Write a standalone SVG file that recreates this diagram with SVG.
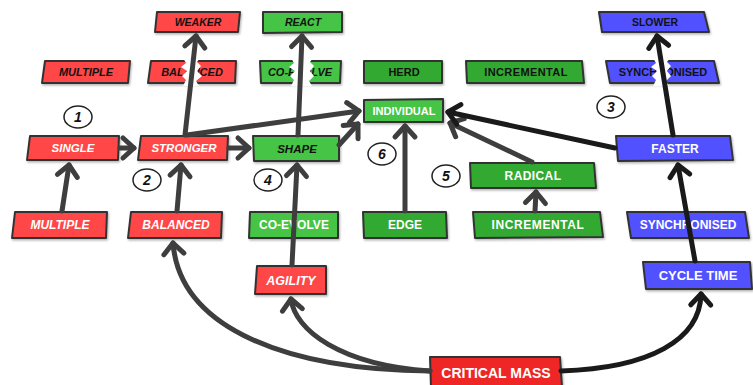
<svg xmlns="http://www.w3.org/2000/svg" width="753" height="385" viewBox="0 0 753 385">
<defs>
<style>
.box{stroke:#333;stroke-width:2;stroke-linejoin:round;filter:url(#sh)}
.r{fill:#ff4646}.g{fill:#44c444}.dg{fill:#30aa30}.b{fill:#5151ff}.cm{fill:#ee2626}
.t{font-family:"Liberation Sans",Arial,sans-serif;font-weight:bold;text-anchor:middle}
.k{fill:#111}.w{fill:#fff}.i{font-style:italic}
.brk{fill:#fff}
.c{fill:none;stroke:#3e3e3e;stroke-width:5;stroke-linecap:round}
.cb{fill:none;stroke:#1a1a1a;stroke-width:5;stroke-linecap:round}
.num{fill:#fff;stroke:#222;stroke-width:1.5}
.nt{font-family:"Liberation Sans",Arial,sans-serif;font-weight:bold;font-style:italic;font-size:14px;fill:#111;text-anchor:middle}
</style>
<filter id="sh" x="-10%" y="-20%" width="125%" height="150%">
<feDropShadow dx="1" dy="1.5" stdDeviation="1" flood-color="#000" flood-opacity="0.3"/>
</filter>
<marker id="ag" markerUnits="userSpaceOnUse" markerWidth="34" markerHeight="34" viewBox="-17 -17 34 34" refX="0" refY="0" orient="auto">
<path d="M-11,-10 L0,0 L-11,10" fill="none" stroke="#3e3e3e" stroke-width="5" stroke-linecap="round" stroke-linejoin="round"/>
</marker>
<marker id="ab" markerUnits="userSpaceOnUse" markerWidth="34" markerHeight="34" viewBox="-17 -17 34 34" refX="0" refY="0" orient="auto">
<path d="M-11,-10 L0,0 L-11,10" fill="none" stroke="#1a1a1a" stroke-width="5" stroke-linecap="round" stroke-linejoin="round"/>
</marker>
</defs>
<rect width="753" height="385" fill="#fff"/>

<g id="nodes">
<g id="weaker"><polygon class="box r" points="157,12 240,12 238,32 155,32"/><text class="t k i" x="198" y="26" font-size="10.5">WEAKER</text></g>
<g id="react"><polygon class="box g" points="263,12 342,12 342,32 263,33"/><text class="t k i" x="303" y="26" font-size="10.5">REACT</text></g>
<g id="slower"><polygon class="box b" points="599,12 704,12 709,32 602,32"/><text class="t k" x="655" y="26" font-size="10.5">SLOWER</text></g>

<g id="multiple-top"><polygon class="box r" points="45,61 130,61 128,83 42,83"/><text class="t k i" x="86" y="76" font-size="11">MULTIPLE</text></g>
<g id="balanced-top"><polygon class="box r" points="151,61 236,61 235,83 148,83"/><text class="t k i" x="192" y="76" font-size="11">BALANCED</text>
<polygon class="brk" points="183,58 186,63 181,67 187,71 182,76 186,80 183,86 199,86 196,81 202,76 197,71 201,66 197,62 200,58"/></g>
<g id="coevolve-top"><polygon class="box g" points="260,61 341,61 340,83 261,83"/><text class="t k i" x="300" y="76" font-size="11">CO-EVOLVE</text>
<polygon class="brk" points="291,58 294,63 289,67 295,71 290,76 294,80 291,86 312,86 309,81 314,76 310,71 314,66 310,62 313,58"/></g>
<g id="herd"><polygon class="box dg" points="364,61 442,61 442,83 364,83"/><text class="t k" x="404" y="76" font-size="11">HERD</text></g>
<g id="incremental-top"><polygon class="box dg" points="466,61 582,61 584,83 467,83"/><text class="t k" x="526" y="76" font-size="11" letter-spacing="0.4">INCREMENTAL</text></g>
<g id="synchronised-top"><polygon class="box b" points="606,61 714,61 719,83 610,83"/><text class="t k" x="663" y="76" font-size="11">SYNCHRONISED</text>
<polygon class="brk" points="653,58 656,63 651,67 657,71 652,76 656,80 653,86 669,86 666,81 671,76 667,71 671,66 667,62 670,58"/></g>

<g id="individual"><polygon class="box g" points="364,100 443,99 443,122 364,122"/><text class="t w" x="404" y="115" font-size="11">INDIVIDUAL</text></g>

<g id="single"><polygon class="box r" points="30,136 119,136 118,160 27,160"/><text class="t w i" x="73" y="152" font-size="11.5">SINGLE</text></g>
<g id="stronger"><polygon class="box r" points="141,136 228,136 227,160 138,160"/><text class="t w i" x="184" y="152" font-size="11.5">STRONGER</text></g>
<g id="shape"><polygon class="box g" points="253,136 339,136 339,161 254,161"/><text class="t k i" x="297" y="153" font-size="11.5">SHAPE</text></g>
<g id="faster"><polygon class="box b" points="616,136 730,136 733,160 618,161"/><text class="t w" x="675" y="153" font-size="12">FASTER</text></g>
<g id="radical"><polygon class="box dg" points="470,163 594,163 596,188 471,188"/><text class="t w" x="533" y="180" font-size="12" letter-spacing="0.4">RADICAL</text></g>

<g id="multiple-bottom"><polygon class="box r" points="15,212 107,212 106,238 12,238"/><text class="t w i" x="60" y="229" font-size="12">MULTIPLE</text></g>
<g id="balanced-bottom"><polygon class="box r" points="131,212 222,212 221,238 128,238"/><text class="t w i" x="176" y="229" font-size="12">BALANCED</text></g>
<g id="coevolve-bottom"><polygon class="box g" points="250,212 338,212 338,238 249,238"/><text class="t w" x="294" y="229" font-size="12">CO-EVOLVE</text></g>
<g id="edge"><polygon class="box dg" points="363,212 446,212 447,238 364,238"/><text class="t w" x="405" y="229" font-size="12">EDGE</text></g>
<g id="incremental-bottom"><polygon class="box dg" points="473,212 600,212 603,237 475,238"/><text class="t w" x="538" y="229" font-size="12" letter-spacing="0.6">INCREMENTAL</text></g>
<g id="synchronised-bottom"><polygon class="box b" points="627,212 745,212 749,238 631,238"/><text class="t w" x="688" y="229" font-size="12">SYNCHRONISED</text></g>

<g id="agility"><polygon class="box r" points="257,266 326,266 326,294 255,294"/><text class="t w i" x="291" y="285" font-size="12.5">AGILITY</text></g>
<g id="cycle-time"><polygon class="box b" points="643,262 750,262 752,289 646,289"/><text class="t w" x="698" y="280" font-size="13">CYCLE TIME</text></g>
<g id="critical-mass"><polygon class="box cm" points="430,357 560,357 562,387 431,387"/><text class="t w" x="496" y="378" font-size="14">CRITICAL MASS</text></g>
</g>

<g id="labels">
<ellipse class="num" cx="78" cy="117" rx="14" ry="11"/><text class="nt" x="78" y="122">1</text>
<ellipse class="num" cx="147" cy="180" rx="14" ry="11"/><text class="nt" x="147" y="185">2</text>
<ellipse class="num" cx="611" cy="107" rx="14" ry="11"/><text class="nt" x="611" y="112">3</text>
<ellipse class="num" cx="268" cy="180" rx="14" ry="11"/><text class="nt" x="268" y="185">4</text>
<ellipse class="num" cx="446" cy="176" rx="14" ry="11"/><text class="nt" x="446" y="181">5</text>
<ellipse class="num" cx="382" cy="154" rx="14" ry="11"/><text class="nt" x="382" y="159">6</text>
</g>

<g id="connectors">
<path class="c" marker-end="url(#ag)" d="M62,211 L69,165"/>
<path class="c" marker-end="url(#ag)" d="M120,148 L134,148"/>
<path class="c" marker-end="url(#ag)" d="M177,211 L181,165"/>
<path class="c" marker-end="url(#ag)" d="M185,135 L196,36"/>
<path class="c" marker-end="url(#ag)" d="M187,135 L359,111"/>
<path class="c" marker-end="url(#ag)" d="M229,148 L249,148"/>
<path class="c" marker-end="url(#ag)" d="M339,145 L358,124"/>
<path class="c" marker-end="url(#ag)" d="M292,265 L297,165"/>
<path class="c" marker-end="url(#ag)" d="M298,135 L302,36"/>
<path class="c" marker-end="url(#ag)" d="M405,211 L405,126"/>
<path class="c" marker-end="url(#ag)" d="M532,162 L450,123"/>
<path class="c" marker-end="url(#ag)" d="M535,211 L536,192"/>
<path class="cb" marker-end="url(#ab)" d="M615,148 L448,112"/>
<path class="cb" marker-end="url(#ab)" d="M673,135 L657,36"/>
<path class="cb" marker-end="url(#ab)" d="M695,261 L678,165"/>
<path class="c" marker-end="url(#ag)" d="M430,371 C290,370 180,330 173,243"/>
<path class="c" marker-end="url(#ag)" d="M430,371 C340,365 295,330 291,299"/>
<path class="cb" marker-end="url(#ab)" d="M561,371 C650,368 700,340 701,294"/>
</g>
</svg>
